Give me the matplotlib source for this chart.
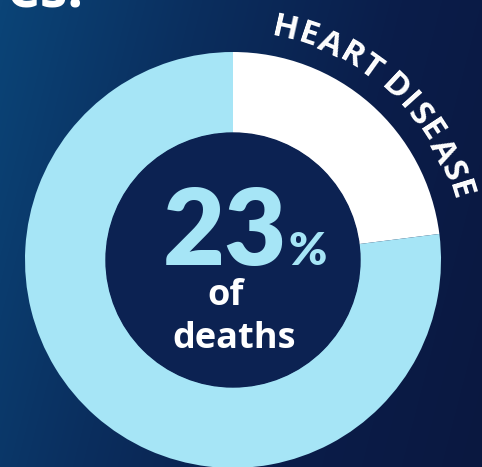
"""Donut card: share of deaths from heart disease
"""
import numpy as np
import matplotlib.pyplot as plt
from matplotlib.patches import Circle
from matplotlib.colors import LinearSegmentedColormap

W, H = 482, 467

labels = ['HEART DISEASE', 'OTHER']
shares = [23, 77]
big_value = '23'
arc_label = 'HEART DISEASE'

slice_colors = ['#ffffff', '#a6e5f6']
hole_color = '#0c2252'

fig = plt.figure(figsize=(W / 100, H / 100), dpi=100)
ax = fig.add_axes([0, 0, 1, 1])

# background gradient (lighter top-left, darker right)
yy, xx = np.mgrid[0:H, 0:W]
t = (xx / W) * 0.8 + (yy / H) * 0.2
cmap = LinearSegmentedColormap.from_list('bg', ['#0b4477', '#0a2e5e', '#0a1d4a', '#0a1840'])
ax.imshow(t, cmap=cmap, extent=[0, W, 0, H], origin='upper', aspect='auto', zorder=0)

cx, cy = 233, H - 260
R, r_in = 208, 127

ax.pie(shares, colors=slice_colors, startangle=90, counterclock=False,
       center=(cx, cy), radius=R, wedgeprops=dict(width=R - r_in, linewidth=0))
ax.add_patch(Circle((cx, cy), r_in, color=hole_color, zorder=3))

ax.set_xlim(0, W)
ax.set_ylim(0, H)
ax.set_aspect('auto')
ax.axis('off')

# big number
ax.text(287, H - 265, big_value, ha='right', va='baseline', color='#a6e5f6',
        fontsize=77, fontweight='heavy', family='Lato', zorder=5)
ax.text(289, H - 265, '%', ha='left', va='baseline', color='#a6e5f6',
        fontsize=33, fontweight='heavy', family='Lato', zorder=5)
ax.text(226, H - 305, 'of', ha='center', va='baseline', color='white',
        fontsize=26, fontweight='bold', family='Open Sans', zorder=5)
ax.text(234, H - 348, 'deaths', ha='center', va='baseline', color='white',
        fontsize=26, fontweight='bold', family='Open Sans', zorder=5)

# cut-off heading at top-left
ax.text(84, H - 8, 'es.', ha='right', va='baseline', color='white',
        fontsize=40, fontweight='bold', family='Open Sans', zorder=5)

# curved label around the outside of the white slice
fig.canvas.draw()
renderer = fig.canvas.get_renderer()
fs = 24
widths = []
for ch in arc_label:
    tt = ax.text(0, 0, ch if ch != ' ' else 'I', fontsize=fs, fontweight='bold', family='Open Sans')
    widths.append(tt.get_window_extent(renderer).width * (0.6 if ch == ' ' else 1.0))
    tt.remove()
widths = np.array(widths)
r_txt = 236
a0, a1 = np.radians(12.7), np.radians(72.9)
centers = np.cumsum(widths) - widths / 2
centers = (centers - centers[0]) / (centers[-1] - centers[0])
for ch, f in zip(arc_label, centers):
    th = a0 + f * (a1 - a0)
    x = cx + r_txt * np.sin(th)
    y = cy + r_txt * np.cos(th)
    ax.text(x, y, ch, rotation=-np.degrees(th), rotation_mode='anchor',
            ha='center', va='center', color='white', fontsize=fs,
            fontweight='bold', family='Open Sans', zorder=5)

plt.savefig('out.png', dpi=100)
